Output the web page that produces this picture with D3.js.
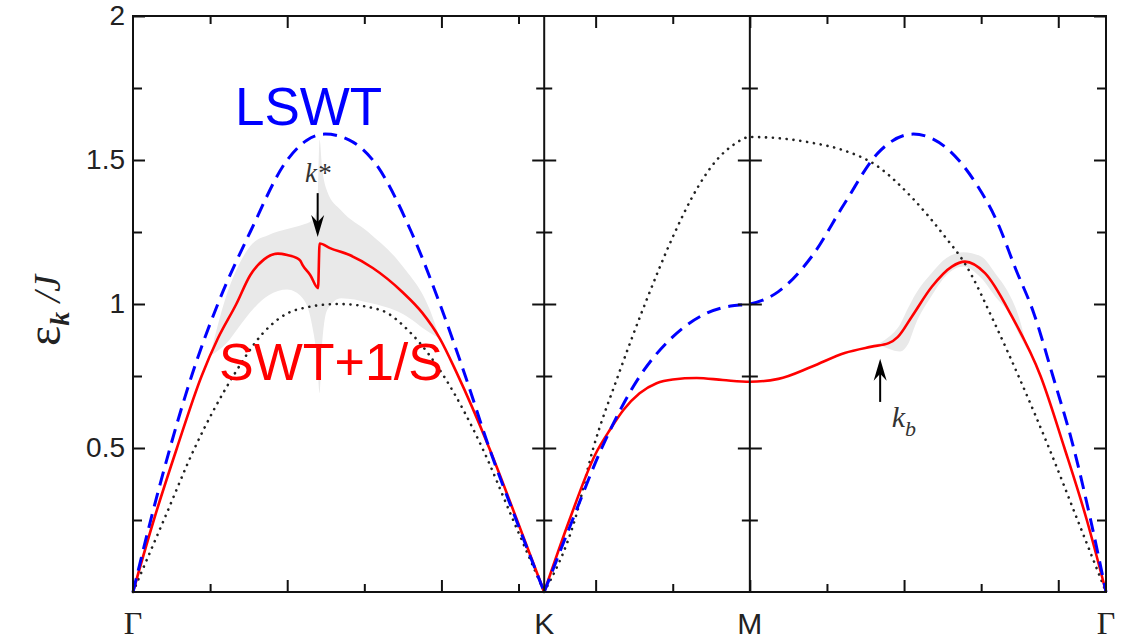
<!DOCTYPE html>
<html>
<head>
<meta charset="utf-8">
<script src="https://cdn.jsdelivr.net/npm/d3@7"></script>
<style>
  body { margin: 0; background: #fff; }
  svg { display: block; }
</style>
</head>
<body>
<div id="chart"></div>
<script>
// ---- data (x: distance along Γ–K–M–Γ, one unit per tick) ----
const kPoints = [
  { label: "Γ", x: 0, serif: true },
  { label: "K", x: 5.333, serif: false },
  { label: "M", x: 8, serif: false },
  { label: "Γ", x: 12.619, serif: true }
];
const yMajor = [0.5, 1, 1.5, 2];
const yMinor = [0.25, 0.75, 1.25, 1.75];

// linear spin-wave (blue dashed)
const lswt = [
  [0, 0], [0.23, 0.25], [0.48, 0.5], [0.76, 0.75], [1.10, 1.0], [1.52, 1.25],
  [2.0, 1.5], [2.25, 1.568], [2.49, 1.59], [2.8, 1.57], [3.11, 1.5], [3.61, 1.25],
  [3.98, 1.0], [4.31, 0.75], [4.62, 0.5], [4.97, 0.25], [5.333, 0],
  [5.70, 0.25], [6.08, 0.5], [6.575, 0.75], [7.0, 0.886], [7.44, 0.968],
  [7.75, 0.993], [8.0, 1.0], [8.37, 1.043], [8.8, 1.164], [9.23, 1.35],
  [9.66, 1.524], [10.12, 1.59], [10.53, 1.546], [10.96, 1.407], [11.2, 1.29],
  [11.45, 1.12], [11.68, 0.97], [11.93, 0.75], [12.2, 0.5], [12.42, 0.25], [12.619, 0]
];

// SWT + 1/S (red)
const swt = [
  [0, 0], [0.27, 0.25], [0.57, 0.5], [0.89, 0.75], [1.1, 0.88], [1.34, 1.0],
  [1.52, 1.10], [1.7, 1.155], [1.88, 1.175], [2.0, 1.17], [2.12, 1.16], [2.17, 1.15],
  [2.20, 1.135], [2.30, 1.10], [2.40, 1.055], [2.42, 1.21], [2.555, 1.194],
  [2.81, 1.17], [3.11, 1.125], [3.5, 1.04], [3.75, 0.97], [3.98, 0.88], [4.2, 0.76],
  [4.62, 0.5], [4.98, 0.25], [5.333, 0],
  [5.66, 0.25], [6.0, 0.48], [6.19, 0.565], [6.36, 0.632], [6.57, 0.69], [6.79, 0.725],
  [7.0, 0.738], [7.31, 0.743], [7.65, 0.736], [8.0, 0.73],
  [8.37, 0.74], [8.8, 0.782], [9.23, 0.83], [9.58, 0.852], [9.8, 0.864], [9.92, 0.886],
  [10.1, 0.956], [10.36, 1.06], [10.62, 1.13], [10.79, 1.147], [11.05, 1.107],
  [11.4, 0.956], [11.77, 0.75], [12.08, 0.5], [12.37, 0.25], [12.619, 0]
];

// dotted black curve
const dotted = [
  [0, 0], [0.4, 0.25], [0.8, 0.5], [1.3, 0.75], [1.69, 0.9], [2.12, 0.98], [2.667, 1.0],
  [3.2, 0.98], [3.6, 0.9], [4.03, 0.75], [4.53, 0.5], [4.93, 0.25], [5.333, 0],
  [5.73, 0.25], [5.97, 0.5], [6.29, 0.75], [6.64, 1.0], [7.03, 1.25], [7.25, 1.37],
  [7.57, 1.5], [7.8, 1.555], [8.0, 1.58], [8.4, 1.575], [8.8, 1.56], [9.2, 1.535],
  [9.63, 1.483], [10.1, 1.37], [10.53, 1.234], [10.79, 1.14], [11.18, 0.93],
  [11.5, 0.74], [11.88, 0.5], [12.25, 0.25], [12.619, 0]
];

// grey damping bands: [x, lower, upper]
const bandGK = [
  [1.0, 0.82, 0.82], [1.2, 0.86, 1.02], [1.4, 0.93, 1.15], [1.55, 0.98, 1.21],
  [1.76, 1.03, 1.24], [2.0, 1.05, 1.26], [2.2, 1.02, 1.275], [2.32, 0.93, 1.29],
  [2.39, 0.80, 1.33], [2.42, 0.69, 1.57], [2.45, 0.85, 1.48], [2.52, 0.98, 1.39],
  [2.7, 1.02, 1.325], [3.05, 1.005, 1.25], [3.5, 0.965, 1.13], [3.85, 0.90, 0.98],
  [3.98, 0.88, 0.88]
];
const bandMG = [
  [9.65, 0.86, 0.86], [9.8, 0.845, 0.885], [9.95, 0.835, 0.93], [10.05, 0.86, 0.985],
  [10.15, 0.93, 1.035], [10.35, 1.025, 1.105], [10.55, 1.10, 1.16], [10.77, 1.13, 1.18],
  [11.0, 1.09, 1.165], [11.2, 1.02, 1.10], [11.33, 0.98, 1.05], [11.5, 0.89, 0.945],
  [11.6, 0.84, 0.84]
];

// annotations
const kStar = { x: 2.395, from: 1.385, to: 1.233, textY: 1.424 };
const kB = { x: 9.69, from: 0.66, to: 0.81, textX: 9.84, textY: 0.573 };

// ---- layout ----
const width = 1121;
const height = 643;

const svg = d3.select("#chart")
  .append("svg")
  .attr("width", width)
  .attr("height", height)
  .style("background", "#fff");

const x = d3.scaleLinear().domain([0, 12.619]).range([133, 1106]);
const y = d3.scaleLinear().domain([0, 2]).range([592, 16]);

const xTicks = d3.range(1, 13);
const xMajor = xTicks.filter(d => d % 2 === 0);
const xMinor = xTicks.filter(d => d % 2 === 1);

// cut a series at K so the cusp stays sharp
const kX = kPoints[1].x;
function splitAtK(data) {
  return [data.filter(d => d[0] <= kX), data.filter(d => d[0] >= kX)];
}

// grey bands
const area = d3.area()
  .x(d => x(d[0]))
  .y0(d => y(d[1]))
  .y1(d => y(d[2]))
  .curve(d3.curveMonotoneX);

[bandGK, bandMG].forEach(b => {
  svg.append("path").attr("d", area(b)).attr("fill", "#e9e9e9");
});

const line = d3.line()
  .x(d => x(d[0]))
  .y(d => y(d[1]))
  .curve(d3.curveMonotoneX);

splitAtK(dotted).forEach(seg => {
  svg.append("path")
    .attr("d", line(seg))
    .attr("fill", "none")
    .attr("stroke", "#222")
    .attr("stroke-width", 2.6)
    .attr("stroke-linecap", "round")
    .attr("stroke-dasharray", "0.1,6.8");
});

splitAtK(swt).forEach(seg => {
  svg.append("path")
    .attr("d", line(seg))
    .attr("fill", "none")
    .attr("stroke", "#ff0000")
    .attr("stroke-width", 2.6)
    .attr("stroke-linejoin", "round");
});

splitAtK(lswt).forEach(seg => {
  svg.append("path")
    .attr("d", line(seg))
    .attr("fill", "none")
    .attr("stroke", "#0000ff")
    .attr("stroke-width", 3)
    .attr("stroke-dasharray", "14,8");
});

// ---- axes ----
function styleAxis(g) {
  g.selectAll("line").attr("stroke", "#111").attr("stroke-width", 2);
  g.selectAll("path.domain").remove();
  return g;
}

// bottom / top ticks
svg.append("g").attr("transform", `translate(0,${y(0)})`)
  .call(d3.axisBottom(x).tickValues(xMajor).tickSize(-12).tickFormat(""))
  .call(styleAxis);
svg.append("g").attr("transform", `translate(0,${y(0)})`)
  .call(d3.axisBottom(x).tickValues(xMinor).tickSize(-8).tickFormat(""))
  .call(styleAxis);
svg.append("g").attr("transform", `translate(0,${y(2)})`)
  .call(d3.axisTop(x).tickValues(xMajor).tickSize(-12).tickFormat(""))
  .call(styleAxis);
svg.append("g").attr("transform", `translate(0,${y(2)})`)
  .call(d3.axisTop(x).tickValues(xMinor).tickSize(-8).tickFormat(""))
  .call(styleAxis);

// left axis with labels
const yAxisG = svg.append("g").attr("transform", `translate(${x(0)},0)`)
  .call(d3.axisLeft(y).tickValues(yMajor).tickSize(-12).tickPadding(8).tickFormat(d => String(d)))
  .call(styleAxis);
yAxisG.selectAll("text")
  .attr("font-family", "'Liberation Sans', Arial, sans-serif")
  .attr("font-size", 28)
  .attr("fill", "#222");
svg.append("g").attr("transform", `translate(${x(0)},0)`)
  .call(d3.axisLeft(y).tickValues(yMinor).tickSize(-9).tickFormat(""))
  .call(styleAxis);

// right axis
svg.append("g").attr("transform", `translate(${x(12.619)},0)`)
  .call(d3.axisRight(y).tickValues(yMajor).tickSize(-12).tickFormat(""))
  .call(styleAxis);
svg.append("g").attr("transform", `translate(${x(12.619)},0)`)
  .call(d3.axisRight(y).tickValues(yMinor).tickSize(-9).tickFormat(""))
  .call(styleAxis);

// K and M lines: ticks on both sides
[kPoints[1].x, kPoints[2].x].forEach(kx => {
  [d3.axisLeft, d3.axisRight].forEach(ax => {
    svg.append("g").attr("transform", `translate(${x(kx)},0)`)
      .call(ax(y).tickValues(yMajor.slice(0, 3)).tickSize(12).tickFormat(""))
      .call(styleAxis);
    svg.append("g").attr("transform", `translate(${x(kx)},0)`)
      .call(ax(y).tickValues(yMinor).tickSize(8).tickFormat(""))
      .call(styleAxis);
  });
  svg.append("line")
    .attr("x1", x(kx)).attr("x2", x(kx))
    .attr("y1", y(0)).attr("y2", y(2))
    .attr("stroke", "#111").attr("stroke-width", 2);
});

// frame
svg.append("rect")
  .attr("x", x(0)).attr("y", y(2))
  .attr("width", x(12.619) - x(0))
  .attr("height", y(0) - y(2))
  .attr("fill", "none")
  .attr("stroke", "#111")
  .attr("stroke-width", 2);

// symmetry point labels
svg.selectAll("text.kpt")
  .data(kPoints)
  .join("text")
  .attr("class", "kpt")
  .attr("x", d => x(d.x))
  .attr("y", 634)
  .attr("text-anchor", "middle")
  .attr("font-family", d => d.serif ? "'Liberation Serif', 'Times New Roman', serif" : "'Liberation Sans', Arial, sans-serif")
  .attr("font-size", d => d.serif ? 32 : 30)
  .attr("fill", "#222")
  .text(d => d.label);

// y label
const yl = svg.append("text")
  .attr("transform", "translate(60,346) rotate(-90)")
  .attr("fill", "#222")
  .attr("font-family", "'Liberation Serif', 'Times New Roman', serif");
yl.append("tspan").attr("font-size", 48).text("ε");
yl.append("tspan").attr("font-size", 28).attr("font-style", "italic").attr("font-weight", "bold").attr("dy", 9).text("k");
yl.append("tspan").attr("font-size", 38).attr("font-style", "italic").attr("dy", -9).text(" /J");

// series labels
svg.append("text")
  .attr("x", 235).attr("y", 125)
  .attr("font-family", "'Liberation Sans', Arial, sans-serif")
  .attr("font-size", 53)
  .attr("fill", "#0000ff")
  .text("LSWT");

svg.append("text")
  .attr("x", 219).attr("y", 380)
  .attr("font-family", "'Liberation Sans', Arial, sans-serif")
  .attr("font-size", 52)
  .attr("fill", "#ff0000")
  .text("SWT+1/S");

// arrows
function arrow(ax, fromY, toY) {
  const x0 = x(ax), y0 = y(fromY), y1 = y(toY);
  const dir = y1 > y0 ? 1 : -1;
  svg.append("line")
    .attr("x1", x0).attr("x2", x0)
    .attr("y1", y0).attr("y2", y1 - dir * 14)
    .attr("stroke", "#000").attr("stroke-width", 2);
  svg.append("path")
    .attr("d", `M${x0},${y1} L${x0 - 6.5},${y1 - dir * 22} L${x0},${y1 - dir * 15} L${x0 + 6.5},${y1 - dir * 22} Z`)
    .attr("fill", "#000");
}
arrow(kStar.x, kStar.from, kStar.to);
arrow(kB.x, kB.from, kB.to);

svg.append("text")
  .attr("x", x(kStar.x)).attr("y", y(kStar.textY))
  .attr("text-anchor", "middle")
  .attr("font-family", "'Liberation Serif', 'Times New Roman', serif")
  .attr("font-style", "italic")
  .attr("font-size", 27)
  .attr("fill", "#333")
  .text("k*");

const kbText = svg.append("text")
  .attr("x", x(kB.textX)).attr("y", y(kB.textY))
  .attr("font-family", "'Liberation Serif', 'Times New Roman', serif")
  .attr("font-style", "italic")
  .attr("font-size", 30)
  .attr("fill", "#333");
kbText.append("tspan").text("k");
kbText.append("tspan").attr("font-size", 22).attr("dy", 9).text("b");
</script>
</body>
</html>
